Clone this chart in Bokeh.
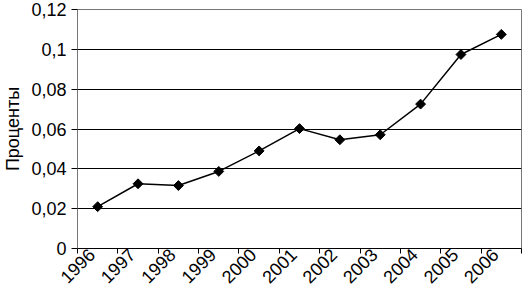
import math
from bokeh.plotting import figure
from bokeh.models import (ColumnDataSource, FixedTicker, CustomJSTickFormatter, Range1d)
from bokeh.embed import file_html
from bokeh.resources import INLINE

# ---- data ----
years = ["1996", "1997", "1998", "1999", "2000", "2001",
         "2002", "2003", "2004", "2005", "2006"]
values = [0.021, 0.0325, 0.0316, 0.0387, 0.049, 0.0602,
          0.0546, 0.0571, 0.0725, 0.0974, 0.1075]
y_ticks = [0, 0.02, 0.04, 0.06, 0.08, 0.1, 0.12]
y_label = "Проценты"

FONT = "Liberation Sans"
FS = "18px"

x_centers = [i + 0.5 for i in range(len(years))]
x_edges = list(range(len(years) + 1))
# rotated labels hang slightly left of the category centre
label_pos = [c - 0.15 for c in x_centers]

src = ColumnDataSource(dict(x=x_centers, y=values, year=years))

p = figure(width=523, height=292, output_backend="svg", toolbar_location=None,
           x_range=Range1d(0, len(years)), y_range=Range1d(y_ticks[0], y_ticks[-1]),
           min_border_left=71, min_border_right=2, min_border_top=9,
           min_border_bottom=44)
p.background_fill_color = "white"
p.border_fill_color = "white"
p.outline_line_color = "#777777"
p.outline_line_width = 1

# grid
p.xgrid.visible = False
p.ygrid.ticker = FixedTicker(ticks=y_ticks)
p.ygrid.grid_line_color = "black"
p.ygrid.grid_line_width = 1

# y axis
ya = p.yaxis[0]
ya.ticker = FixedTicker(ticks=y_ticks)
ya.formatter = CustomJSTickFormatter(code="""
    let s = tick.toFixed(2).replace(/0+$/, '').replace(/\\.$/, '');
    return s.replace('.', ',');
""")
ya.axis_label = y_label
ya.axis_label_text_font = FONT
ya.axis_label_text_font_size = FS
ya.axis_label_text_font_style = "normal"
ya.axis_label_text_color = "black"
ya.axis_label_standoff = 5
ya.major_label_text_font = FONT
ya.major_label_text_font_size = FS
ya.major_label_text_color = "black"
ya.major_label_standoff = 5
ya.major_tick_out = 6
ya.major_tick_in = 0
ya.major_tick_line_color = "black"
ya.minor_tick_line_color = None
ya.axis_line_color = "#777777"

# x axis: labels near category centres, tick marks at category boundaries
xa = p.xaxis[0]
xa.ticker = FixedTicker(ticks=label_pos, minor_ticks=x_edges)
xa.major_label_overrides = {c: y for c, y in zip(label_pos, years)}
xa.major_label_orientation = math.pi / 4
xa.major_label_text_font = FONT
xa.major_label_text_font_size = FS
xa.major_label_text_color = "black"
xa.major_label_standoff = -2
xa.major_tick_out = 0
xa.major_tick_in = 0
xa.major_tick_line_color = None
xa.minor_tick_out = 5
xa.minor_tick_in = 0
xa.minor_tick_line_color = "black"
xa.axis_line_color = "black"

# series
p.line("x", "y", source=src, line_color="black", line_width=1.5)
p.scatter("x", "y", source=src, marker="square", angle=math.pi / 4, size=7,
          fill_color="black", line_color="black")

open("out.html", "w").write(file_html(p, INLINE))
